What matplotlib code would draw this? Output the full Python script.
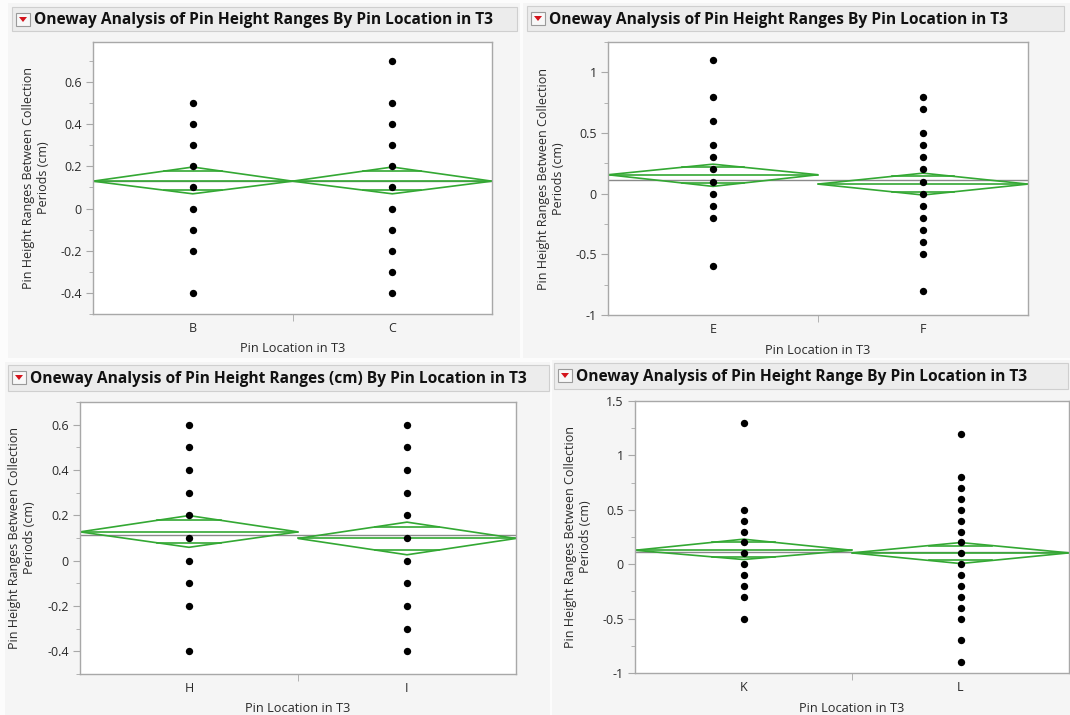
import numpy as np
import matplotlib.pyplot as plt
from matplotlib.patches import Rectangle, Polygon

plt.rcParams['font.family'] = ['Open Sans', 'DejaVu Sans']

W, H = 1070, 715

# ---- data ----
titles = [
    "Oneway Analysis of Pin Height Ranges By Pin Location in T3",
    "Oneway Analysis of Pin Height Ranges By Pin Location in T3",
    "Oneway Analysis of Pin Height Ranges (cm) By Pin Location in T3",
    "Oneway Analysis of Pin Height Range By Pin Location in T3",
]
groups = [["B", "C"], ["E", "F"], ["H", "I"], ["K", "L"]]

values = [
    [[0.5, 0.4, 0.3, 0.2, 0.1, 0.0, -0.1, -0.2, -0.4],
     [0.7, 0.5, 0.4, 0.3, 0.2, 0.1, 0.0, -0.1, -0.2, -0.3, -0.4]],
    [[1.1, 0.8, 0.6, 0.4, 0.3, 0.2, 0.1, 0.0, -0.1, -0.2, -0.6],
     [0.8, 0.7, 0.5, 0.4, 0.3, 0.2, 0.1, 0.0, -0.1, -0.2, -0.3, -0.4, -0.5, -0.8]],
    [[0.6, 0.5, 0.4, 0.3, 0.2, 0.1, 0.0, -0.1, -0.2, -0.4],
     [0.6, 0.5, 0.4, 0.3, 0.2, 0.1, 0.0, -0.1, -0.2, -0.3, -0.4]],
    [[1.3, 0.5, 0.4, 0.3, 0.2, 0.1, 0.0, -0.1, -0.2, -0.3, -0.5],
     [1.2, 0.8, 0.7, 0.6, 0.5, 0.4, 0.3, 0.2, 0.1, 0.0, -0.1, -0.2, -0.3, -0.4, -0.5, -0.7, -0.9]],
]

# group means with 95% confidence limits, plus the grand mean
means = [[0.130, 0.130], [0.156, 0.079], [0.127, 0.098], [0.128, 0.104]]
upper = [[0.197, 0.197], [0.243, 0.169], [0.199, 0.170], [0.230, 0.199]]
lower = [[0.070, 0.070], [0.060, -0.011], [0.059, 0.026], [0.043, 0.006]]
grand = [0.130, 0.112, 0.114, 0.110]

ylims = [(-0.5, 0.79), (-1.0, 1.25), (-0.5, 0.7), (-1.0, 1.5)]
ysteps = [0.2, 0.5, 0.2, 0.5]

# ---- layout (pixels) ----
panels = [(8, 3, 512, 355), (523, 3, 547, 355), (5, 362, 545, 353), (552, 360, 518, 355)]
bars = [(12, 7, 505, 24), (527, 6, 537, 25), (8, 365, 541, 26), (554, 363, 514, 26)]
frames = [(93, 42, 399, 272), (608, 42, 420, 273), (80, 402, 436, 272), (635, 401, 434, 272)]
ylabel_x = [36, 551, 22, 578]
xlabel_y = [348, 350, 708, 708]

fig = plt.figure(figsize=(W / 100, H / 100), dpi=100, facecolor='#fcfcfc')


def fig_rect(x, y, w, h):
    return (x / W, 1 - (y + h) / H, w / W, h / H)


def box(x, y, w, h, **kw):
    l, b, ww, hh = fig_rect(x, y, w, h)
    fig.patches.append(Rectangle((l, b), ww, hh, transform=fig.transFigure, zorder=-5, **kw))


for k in range(4):
    box(*panels[k], facecolor='#f5f5f5', edgecolor='none')
    bx, by, bw, bh = bars[k]
    box(bx, by, bw, bh, facecolor='#ececec', edgecolor='#cfcfcf', linewidth=0.8)
    # red disclosure icon
    ix, iy = bx + 4, by + 6
    box(ix, iy, 14, 13, facecolor='#f8f8f8', edgecolor='#9a9a9a', linewidth=0.8)
    tri = [((ix + 3) / W, 1 - (iy + 4) / H), ((ix + 11) / W, 1 - (iy + 4) / H),
           ((ix + 7) / W, 1 - (iy + 9) / H)]
    fig.patches.append(Polygon(tri, closed=True, transform=fig.transFigure, zorder=-4,
                               facecolor='#d4141c', edgecolor='none'))
    fig.text((bx + 22) / W, 1 - (by + bh / 2 + 1) / H, titles[k], fontsize=11.2,
             fontweight='bold', va='center', ha='left', color='#111111')

    ax = fig.add_axes(fig_rect(*frames[k]))
    ax.set_facecolor('white')
    for s in ax.spines.values():
        s.set_color('#a8a8a8')
        s.set_linewidth(1.0)

    lo_y, hi_y = ylims[k]
    ax.set_xlim(-0.5, 1.5)
    ax.set_ylim(lo_y, hi_y)

    # overall mean
    ax.axhline(grand[k], color='#8a8a8a', linewidth=1.0, zorder=1)

    for i in range(2):
        m, up, dn = means[k][i], upper[k][i], lower[k][i]
        dia = Polygon([(i - 0.5, m), (i, up), (i + 0.5, m), (i, dn)], closed=True,
                      fill=False, edgecolor='#33a833', linewidth=1.2, zorder=2)
        ax.add_patch(dia)
        ax.plot([i - 0.5, i + 0.5], [m, m], color='#33a833', linewidth=1.2, zorder=2)
        # overlap marks
        hw = 0.5 * (1 - 1 / np.sqrt(2))
        for mark in (m + (up - m) / np.sqrt(2), m - (m - dn) / np.sqrt(2)):
            ax.plot([i - hw, i + hw], [mark, mark], color='#33a833', linewidth=1.2, zorder=2)
        v = np.array(values[k][i])
        ax.scatter(np.full(len(v), i), v, s=28, color='black', zorder=3, linewidths=0)

    step = ysteps[k]
    ticks = np.arange(np.ceil(lo_y / step) * step, hi_y + 1e-9, step)
    ax.set_yticks(ticks)
    ax.set_yticklabels([('%g' % round(t, 2)) for t in ticks])
    ax.set_yticks(np.arange(np.ceil(lo_y / (step / 2)) * (step / 2), hi_y + 1e-9, step / 2), minor=True)
    ax.tick_params(axis='y', which='major', length=5, color='#a8a8a8', labelsize=9,
                   labelcolor='#2a2a2a', pad=3)
    ax.tick_params(axis='y', which='minor', length=3, color='#a8a8a8')

    ax.set_xticks([0, 1])
    ax.set_xticklabels(groups[k])
    ax.set_xticks([0.5], minor=True)
    ax.tick_params(axis='x', which='major', length=0, labelsize=9, labelcolor='#2a2a2a', pad=6)
    ax.tick_params(axis='x', which='minor', length=5, color='#a8a8a8')

    fx, fy, fw, fh = frames[k]
    fig.text(ylabel_x[k] / W, 1 - (fy + fh / 2) / H,
             "Pin Height Ranges Between Collection\nPeriods (cm)", rotation=90,
             ha='center', va='center', multialignment='center', fontsize=9,
             color='#2a2a2a', linespacing=1.25)
    fig.text((fx + fw / 2) / W, 1 - xlabel_y[k] / H, "Pin Location in T3",
             ha='center', va='center', fontsize=9.2, color='#2a2a2a')

fig.savefig('out.png', dpi=100, facecolor=fig.get_facecolor())
